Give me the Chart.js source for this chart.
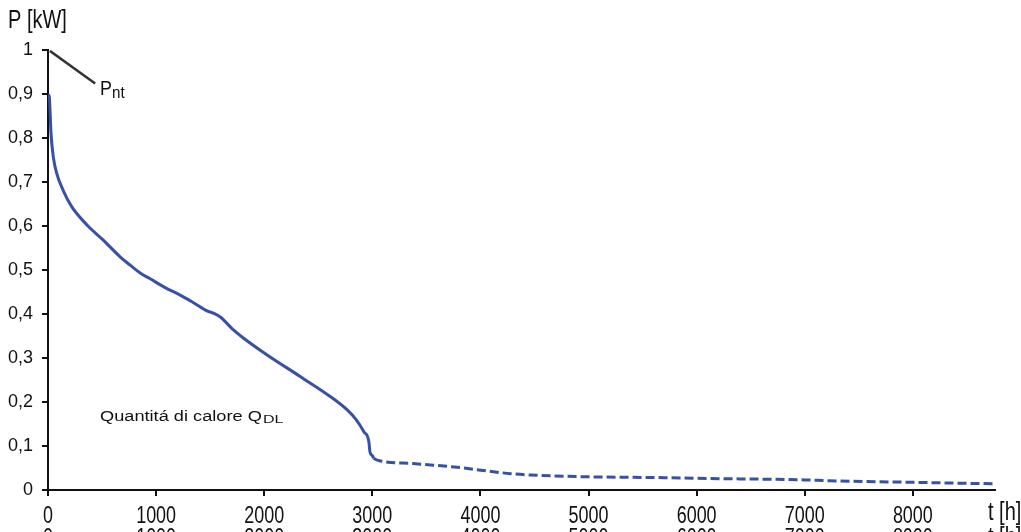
<!DOCTYPE html>
<html><head><meta charset="utf-8">
<script src="https://cdn.jsdelivr.net/npm/chart.js"></script>
<style>html,body{margin:0;padding:0;background:#fff;overflow:hidden}#wrap{width:1021px;height:532px}</style>
</head><body><div id="wrap"><canvas id="c" width="1021" height="532"></canvas></div>
<script>
// Load duration curve data (hours, kW)
const hours = [0, 12, 28, 49, 80, 142, 219, 370, 511, 667, 760, 853, 945, 1084, 1223, 1350, 1471, 1540, 1600, 1702, 1810, 2027, 2336, 2614, 2768, 2850, 2922, 2968, 2978, 3000, 3015, 3058, 3383, 3540, 3846, 4004, 4282, 4467, 5000, 5700, 6000, 7000, 7220, 8000, 8760];
const power = [0.90, 0.894, 0.81, 0.757, 0.72, 0.68, 0.644, 0.60, 0.568, 0.53, 0.511, 0.493, 0.48, 0.46, 0.443, 0.425, 0.407, 0.401, 0.392, 0.367, 0.345, 0.307, 0.2575, 0.212, 0.182, 0.16, 0.1326, 0.11, 0.087, 0.078, 0.072, 0.067, 0.06, 0.057, 0.05, 0.045, 0.037, 0.034, 0.030, 0.028, 0.0265, 0.023, 0.021, 0.0175, 0.014];
// P_nt line
const ntHours = [18, 436];
const ntPower = [0.998, 0.924];
// Tick labels
const xTickValues = [0, 1000, 2000, 3000, 4000, 5000, 6000, 7000, 8000];
const xTickLabels = ['0', '1000', '2000', '3000', '4000', '5000', '6000', '7000', '8000'];
const yAxisTitle = 'P [kW]';
const xAxisTitle = 't [h]';
const curveLabel = 'Quantitá di calore Q';
const curveSub = 'DL';
const ntLabel = 'P';
const ntSub = 'nt';

const FONT = '"Liberation Sans", Arial, sans-serif';
const textPlugin = {
  id: 'texts',
  afterDraw(chart) {
    const ctx = chart.ctx, xs = chart.scales.x;
    function txt(s, x, y, size, sx, sy, align) {
      ctx.save(); ctx.translate(x, y); ctx.scale(sx, sy);
      ctx.font = size + 'px ' + FONT; ctx.fillStyle = '#111';
      ctx.textAlign = align || 'left'; ctx.textBaseline = 'alphabetic';
      ctx.fillText(s, 0, 0); ctx.restore();
    }
    xTickValues.forEach((v, i) => {
      const px = xs.getPixelForValue(v);
      txt(xTickLabels[i], px, 523, 23, 0.78, 1, 'center');
      txt(xTickLabels[i], px, 545, 23, 0.78, 1, 'center');
    });
    txt(yAxisTitle, 8, 28, 25, 0.8, 1);
    txt(xAxisTitle, 988, 520, 25, 0.8, 1);
    txt(xAxisTitle, 988, 545, 25, 0.8, 1);
    txt(ntLabel, 100, 95, 21, 0.85, 1);
    txt(ntSub, 112, 98, 16, 0.95, 1);
    txt(curveLabel, 100, 421, 14, 1.3, 1);
    txt(curveSub, 263, 423, 10, 1.6, 1);
  }
};

new Chart(document.getElementById('c'), {
  type: 'line',
  data: {
    datasets: [{
      data: hours.map((h, i) => ({x: h, y: power[i]})),
      borderColor: '#3651a6', borderWidth: 3, pointRadius: 0,
      cubicInterpolationMode: 'monotone', fill: false,
      segment: { borderDash: c => c.p0.parsed.x >= 3015 ? [9, 4] : undefined }
    }, {
      data: ntHours.map((h, i) => ({x: h, y: ntPower[i]})),
      borderColor: '#333', borderWidth: 2.5, pointRadius: 0, fill: false
    }]
  },
  options: {
    responsive: false, animation: false, events: [],
    layout: { padding: { top: 50, right: 26, left: 0, bottom: 0 } },
    plugins: { legend: { display: false }, tooltip: { enabled: false } },
    scales: {
      x: {
        type: 'linear', min: 0, max: 8760,
        afterBuildTicks: s => { s.ticks = xTickValues.map(v => ({value: v})); },
        afterFit: s => { s.height = 42; },
        ticks: { color: 'rgba(0,0,0,0)', autoSkip: false, maxRotation: 0, font: {size: 18, family: FONT} },
        grid: { drawOnChartArea: false, drawTicks: true, tickLength: 6, color: '#111', lineWidth: 2 },
        border: { color: '#111', width: 2 }
      },
      y: {
        min: 0, max: 1,
        ticks: { stepSize: 0.1, color: '#111', padding: 9, font: {size: 18, family: FONT},
          callback: v => (v === 0 ? '0' : v === 1 ? '1' : v.toFixed(1).replace('.', ',')) },
        afterFit: s => { s.width = 48; },
        grid: { drawOnChartArea: false, drawTicks: true, tickLength: 6, color: '#111', lineWidth: 2 },
        border: { color: '#111', width: 2 }
      }
    }
  },
  plugins: [textPlugin]
});
</script></body></html>
